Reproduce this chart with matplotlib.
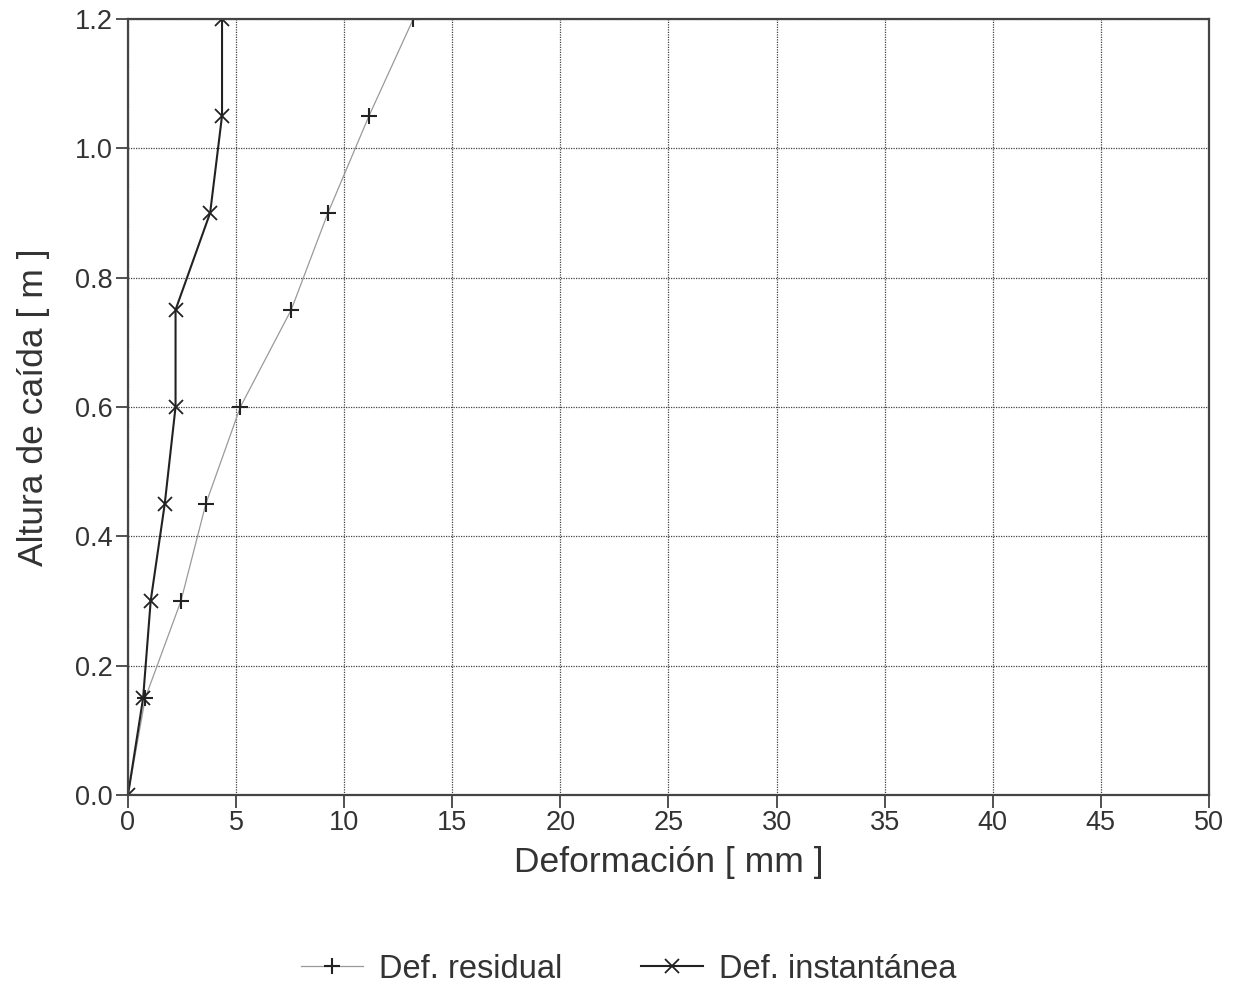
import matplotlib
matplotlib.use("Agg")
import matplotlib.pyplot as plt
from matplotlib.lines import Line2D

plt.rcParams['font.family'] = ['Liberation Sans', 'DejaVu Sans']

# Altura de caída [m]
altura = [0.0, 0.15, 0.30, 0.45, 0.60, 0.75, 0.90, 1.05, 1.20]
# Deformación [mm]
def_residual = [0.0, 0.8, 2.45, 3.6, 5.2, 7.55, 9.25, 11.15, 13.2]
def_instantanea = [0.0, 0.7, 1.05, 1.7, 2.2, 2.2, 3.8, 4.35, 4.35]

xticks = [0, 5, 10, 15, 20, 25, 30, 35, 40, 45, 50]
yticks = [0.0, 0.2, 0.4, 0.6, 0.8, 1.0, 1.2]

fig = plt.figure(figsize=(12.33, 9.9), dpi=100)
ax = fig.add_axes([0.1038, 0.197, 0.8767, 0.784])

ax.plot(def_residual, altura, color='#9a9a9a', lw=0.9, marker='+', ms=11,
        mew=1.5, mec='#222222', label='Def. residual')
ax.plot(def_instantanea, altura, color='#222222', lw=1.5, marker='x', ms=10,
        mew=1.3, mec='#222222', label='Def. instantánea')

ax.set_xlim(0, 50)
ax.set_ylim(0, 1.2)
ax.set_xticks(xticks)
ax.set_yticks(yticks)
ax.set_yticklabels([f'{v:.1f}' for v in yticks])
ax.grid(True, color='#444444', lw=0.9, ls=(0, (1, 1)))
ax.tick_params(direction='out', length=9, width=1.2, labelsize=19.5,
               colors='#333333', pad=2)
for s in ax.spines.values():
    s.set_linewidth(1.6)
    s.set_color('#444444')

ax.set_xlabel('Deformación [ mm ]', fontsize=25.5, color='#333333', labelpad=7)
ax.set_ylabel('Altura de caída [ m ]', fontsize=25.5, color='#333333', labelpad=18)

handles = [
    Line2D([], [], color='#9a9a9a', lw=0.9, marker='+', ms=11, mew=1.5, mec='#222222'),
    Line2D([], [], color='#222222', lw=1.5, marker='x', ms=10, mew=1.3, mec='#222222'),
]
fig.legend(handles, ['Def. residual', 'Def. instantánea'], loc='center',
           bbox_to_anchor=(0.51, 0.021), ncol=2, frameon=False, fontsize=23.5,
           handlelength=1.9, handletextpad=0.5, columnspacing=2.4,
           labelcolor='#333333')

fig.savefig('out.png', dpi=100)
